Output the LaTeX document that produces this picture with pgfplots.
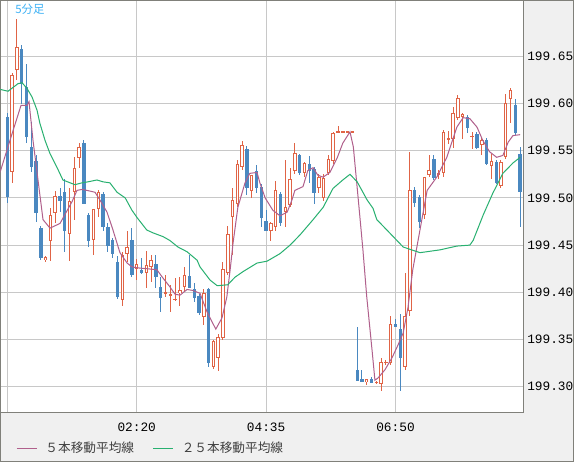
\documentclass[border=0pt]{standalone}
\usepackage{fontspec}
\usepackage{pgfplots}
\usepackage{pgfplotstable}
\pgfplotsset{compat=1.18}
\setmonofont{Liberation Mono}
\newfontfamily\cjk{Noto Sans CJK JP}
\definecolor{corange}{HTML}{E06446}
\definecolor{cblue}{HTML}{4A88C0}
\definecolor{cmafive}{HTML}{B0608C}
\definecolor{cmatwf}{HTML}{28B070}
\definecolor{cgrid}{HTML}{C8C8C8}
\definecolor{cborder}{HTML}{80807A}
\definecolor{cbg}{HTML}{F0F0F0}
\definecolor{clabel}{HTML}{3DB1F5}
\definecolor{clegend}{HTML}{404040}

% up candles (open<=close): i lo=open hi=close L H
\pgfplotstableread{
i lo hi L H
1 199.527 199.630 199.516 199.632
2 199.636 199.660 199.625 199.690
8 199.434 199.437 199.432 199.438
9 199.454 199.482 199.433 199.489
10 199.484 199.502 199.473 199.507
13 199.462 199.497 199.433 199.511
14 199.506 199.532 199.477 199.543
15 199.542 199.554 199.532 199.558
18 199.455 199.488 199.440 199.488
19 199.488 199.506 199.480 199.508
24 199.392 199.440 199.385 199.443
25 199.441 199.448 199.432 199.465
27 199.425 199.430 199.413 199.435
29 199.420 199.429 199.405 199.444
30 199.427 199.434 199.411 199.440
33 199.398 199.400 199.395 199.418
34 199.397 199.398 199.379 199.408
35 199.392 199.393 199.391 199.415
36 199.399 199.402 199.385 199.416
37 199.406 199.418 199.400 199.427
41 199.374 199.399 199.365 199.403
43 199.321 199.348 199.319 199.350
44 199.330 199.353 199.317 199.356
45 199.352 199.425 199.350 199.432
46 199.421 199.462 199.418 199.470
47 199.480 199.498 199.440 199.511
48 199.494 199.536 199.490 199.540
49 199.533 199.556 199.530 199.560
51 199.507 199.524 199.500 199.524
55 199.465 199.473 199.454 199.475
56 199.469 199.508 199.465 199.518
58 199.485 199.490 199.469 199.540
59 199.493 199.520 199.490 199.532
60 199.528 199.548 199.525 199.558
62 199.526 199.537 199.522 199.538
65 199.510 199.522 199.505 199.525
66 199.500 199.521 199.497 199.525
67 199.526 199.541 199.524 199.545
68 199.539 199.569 199.536 199.570
69 199.570 199.570 199.569 199.576
70 199.570 199.570 199.570 199.570
71 199.570 199.570 199.570 199.570
72 199.570 199.570 199.570 199.570
75 199.305 199.308 199.302 199.308
77 199.304 199.305 199.303 199.306
78 199.303 199.326 199.295 199.330
79 199.326 199.326 199.323 199.328
80 199.325 199.366 199.323 199.375
83 199.321 199.375 199.318 199.421
84 199.380 199.508 199.375 199.549
87 199.482 199.522 199.478 199.522
88 199.524 199.530 199.522 199.545
90 199.524 199.526 199.520 199.530
91 199.526 199.570 199.522 199.572
92 199.562 199.563 199.557 199.571
93 199.562 199.590 199.553 199.596
94 199.585 199.606 199.583 199.609
95 199.586 199.589 199.562 199.590
97 199.565 199.566 199.552 199.570
99 199.556 199.561 199.545 199.564
101 199.534 199.539 199.520 199.546
103 199.513 199.538 199.511 199.540
104 199.543 199.601 199.541 199.610
105 199.605 199.614 199.579 199.616
}\uptbl

% down candles (close<open): i lo=close hi=open L H
\pgfplotstableread{
i lo hi L H
0 199.501 199.586 199.495 199.590
3 199.621 199.658 199.600 199.662
4 199.564 199.618 199.558 199.642
5 199.533 199.554 199.527 199.580
6 199.484 199.539 199.475 199.545
7 199.436 199.468 199.434 199.470
11 199.497 199.502 199.485 199.511
12 199.465 199.506 199.443 199.520
16 199.494 199.558 199.494 199.561
17 199.454 199.482 199.448 199.484
20 199.469 199.504 199.465 199.506
21 199.449 199.469 199.443 199.473
22 199.441 199.455 199.436 199.458
23 199.395 199.432 199.393 199.438
26 199.418 199.455 199.416 199.468
28 199.420 199.424 199.419 199.436
31 199.416 199.430 199.405 199.440
32 199.394 199.406 199.379 199.416
38 199.405 199.417 199.405 199.440
39 199.394 199.403 199.390 199.410
40 199.378 199.396 199.376 199.398
42 199.325 199.403 199.321 199.405
50 199.511 199.552 199.503 199.555
52 199.511 199.528 199.505 199.535
53 199.479 199.512 199.469 199.515
54 199.465 199.476 199.465 199.487
57 199.473 199.504 199.470 199.506
61 199.526 199.545 199.524 199.547
63 199.528 199.536 199.516 199.544
64 199.505 199.531 199.494 199.533
73 199.306 199.318 199.306 199.363
74 199.305 199.308 199.305 199.318
76 199.304 199.308 199.304 199.310
81 199.363 199.366 199.363 199.372
82 199.330 199.361 199.295 199.377
85 199.495 199.508 199.490 199.512
86 199.474 199.501 199.468 199.503
89 199.521 199.541 199.519 199.545
96 199.574 199.586 199.569 199.588
98 199.553 199.568 199.552 199.570
100 199.536 199.561 199.535 199.563
102 199.516 199.538 199.515 199.540
106 199.569 199.598 199.567 199.605
107 199.506 199.546 199.469 199.554
}\downtbl

% 5-bar moving average
\pgfplotstableread{
i v
-1.52 199.527
0.56 199.561
2.86 199.598
4.11 199.598
4.53 199.602
5.36 199.561
7.45 199.477
8.91 199.468
11.0 199.473
13.5 199.496
14.54 199.508
15.6 199.509
16.6 199.508
18.3 199.506
19.3 199.498
20.8 199.485
22.05 199.466
23.5 199.442
25.0 199.431
26.0 199.427
27.06 199.426
31.2 199.424
32.5 199.415
33.9 199.406
35.0 199.398
36.03 199.397
37.5 199.403
38.7 199.402
40.2 199.399
41.7 199.379
43.5 199.361
44.8 199.373
45.8 199.395
46.5 199.424
47.1 199.452
48.1 199.490
49.6 199.516
50.6 199.526
52.1 199.527
52.7 199.516
53.8 199.500
55.4 199.487
56.9 199.481
58.4 199.485
59.4 199.498
60.0 199.508
61.7 199.512
62.7 199.529
63.8 199.532
64.8 199.524
65.9 199.522
67.3 199.527
68.8 199.542
70.0 199.558
71.5 199.570
72.2 199.554
73.2 199.500
74.2 199.445
75.0 199.395
76.1 199.339
76.7 199.307
77.3 199.309
78.8 199.318
80.3 199.331
81.5 199.344
82.6 199.357
83.6 199.384
84.6 199.424
86.1 199.466
87.6 199.508
89.6 199.522
91.7 199.543
93.8 199.575
95.1 199.585
96.5 199.584
98.0 199.575
99.2 199.561
100.6 199.549
102.1 199.543
103.4 199.545
104.5 199.559
105.5 199.566
107.0 199.567
}\mafive

% 25-bar moving average
\pgfplotstableread{
i v
-1.52 199.615
0.15 199.613
1.19 199.617
2.23 199.621
3.07 199.622
4.11 199.616
5.15 199.607
6.2 199.593
6.8 199.579
7.87 199.561
8.9 199.547
10.4 199.532
11.6 199.519
13.1 199.516
14.1 199.514
15.6 199.516
16.8 199.517
18.7 199.519
20.0 199.517
21.4 199.516
22.9 199.506
24.6 199.500
26.0 199.487
27.1 199.479
29.1 199.466
30.4 199.463
32.5 199.459
33.9 199.455
35.6 199.448
37.5 199.443
39.6 199.434
40.2 199.427
42.3 199.413
43.8 199.407
46.0 199.408
47.5 199.416
49.2 199.422
52.1 199.431
54.2 199.433
56.9 199.441
59.0 199.450
61.1 199.461
63.8 199.477
65.9 199.490
67.95 199.510
70.0 199.519
71.5 199.525
73.0 199.517
74.2 199.506
75.05 199.498
76.3 199.489
77.1 199.477
79.2 199.466
82.6 199.448
86.1 199.442
90.3 199.445
93.8 199.449
96.5 199.450
97.2 199.455
99.3 199.482
101.3 199.505
103.4 199.526
105.5 199.537
107.0 199.543
}\matwf

\pgfplotsset{
  errsegs/.style n args={2}{forget plot, draw=none, mark=none,
    error bars/.cd, y dir=both, y explicit, error mark=none,
    error bar style={draw=#1, line width=#2, line cap=butt}},
}

\begin{document}
\begin{tikzpicture}
\fill[cbg] (0,0) rectangle (430.5pt,-346.5pt);
\draw[cborder, line width=0.75pt] (0.375pt,-0.375pt) rectangle (430.125pt,-346.125pt);
\begin{axis}[
  at={(0.375pt,-0.375pt)}, anchor=north west,
  scale only axis, width=391.875pt, height=309pt,
  xmin=-1.42, xmax=107.6, ymin=0.2727, ymax=0.7091,
  axis background/.style={fill=white},
  axis line style={draw=cborder, line width=0.75pt},
  grid=major, major grid style={draw=cgrid, line width=0.75pt},
  xtick={0,27,54,81}, xticklabels={,02:20,04:35,06:50},
  ytick={0.3,0.35,0.4,0.45,0.5,0.55,0.6,0.65},
  yticklabels={199.30,199.35,199.40,199.45,199.50,199.55,199.60,199.65},
  yticklabel pos=right,
  major tick length=0pt,
  tick style={draw=none},
  yticklabel style={font=\ttfamily\fontsize{9.6}{10}\selectfont, anchor=west, inner sep=0pt, xshift=3pt, text=black},
  xticklabel style={font=\ttfamily\fontsize{9.6}{10}\selectfont, anchor=north, inner sep=0pt, yshift=-7.5pt, text=black},
  legend columns=-1,
  legend style={at={(0.0306,-0.0862)}, anchor=west, draw=none, fill=none,
    inner sep=0pt, outer sep=0pt, text=clegend,
    font=\cjk\fontsize{9.5}{11}\selectfont,
    nodes={inner sep=0pt},
    /tikz/every odd column/.append style={column sep=6pt},
    /tikz/every even column/.append style={column sep=14pt}},
  legend image code/.code={\draw[#1, line width=0.75pt] (0pt,0pt) -- (15pt,0pt);},
]
% down candles: wicks and filled bodies
\addplot[errsegs={cblue}{0.75pt}] table[x=i,
  y expr={\fpeval{(\thisrow{H}+\thisrow{L})/2-199}},
  y error expr={\fpeval{(\thisrow{H}-\thisrow{L})/2}}] {\downtbl};
\addplot[errsegs={cblue}{2.5pt}] table[x=i,
  y expr={\fpeval{(\thisrow{hi}+\thisrow{lo})/2-199}},
  y error expr={\fpeval{max((\thisrow{hi}-\thisrow{lo})/2,0.0004)}}] {\downtbl};
% up candles: wicks, outlined hollow bodies
\addplot[errsegs={corange}{0.75pt}] table[x=i,
  y expr={\fpeval{(\thisrow{H}+\thisrow{L})/2-199}},
  y error expr={\fpeval{(\thisrow{H}-\thisrow{L})/2}}] {\uptbl};
\addplot[errsegs={corange}{2.6pt}] table[x=i,
  y expr={\fpeval{(\thisrow{hi}+\thisrow{lo})/2-199}},
  y error expr={\fpeval{max((\thisrow{hi}-\thisrow{lo})/2,0.00055)}}] {\uptbl};
\addplot[errsegs={white}{1.1pt}] table[x=i,
  y expr={\fpeval{(\thisrow{hi}+\thisrow{lo})/2-199}},
  y error expr={\fpeval{max((\thisrow{hi}-\thisrow{lo})/2-0.00106,0)}}] {\uptbl};

\addplot[color=cmafive, line width=0.75pt, mark=none] table[x=i, y expr={\fpeval{\thisrow{v}-199}}] {\mafive};
\addlegendentry{５本移動平均線}
\addplot[color=cmatwf, line width=0.75pt, mark=none] table[x=i, y expr={\fpeval{\thisrow{v}-199}}] {\matwf};
\addlegendentry{２５本移動平均線}
\node[anchor=west, inner sep=0pt, text=clabel, font=\cjk\fontsize{8.6}{9}\selectfont] at (axis description cs:0.0278,0.978) {5分足};
\end{axis}
\pgfresetboundingbox
\useasboundingbox (0,0) rectangle (430.5pt,-346.5pt);
\end{tikzpicture}
\end{document}
